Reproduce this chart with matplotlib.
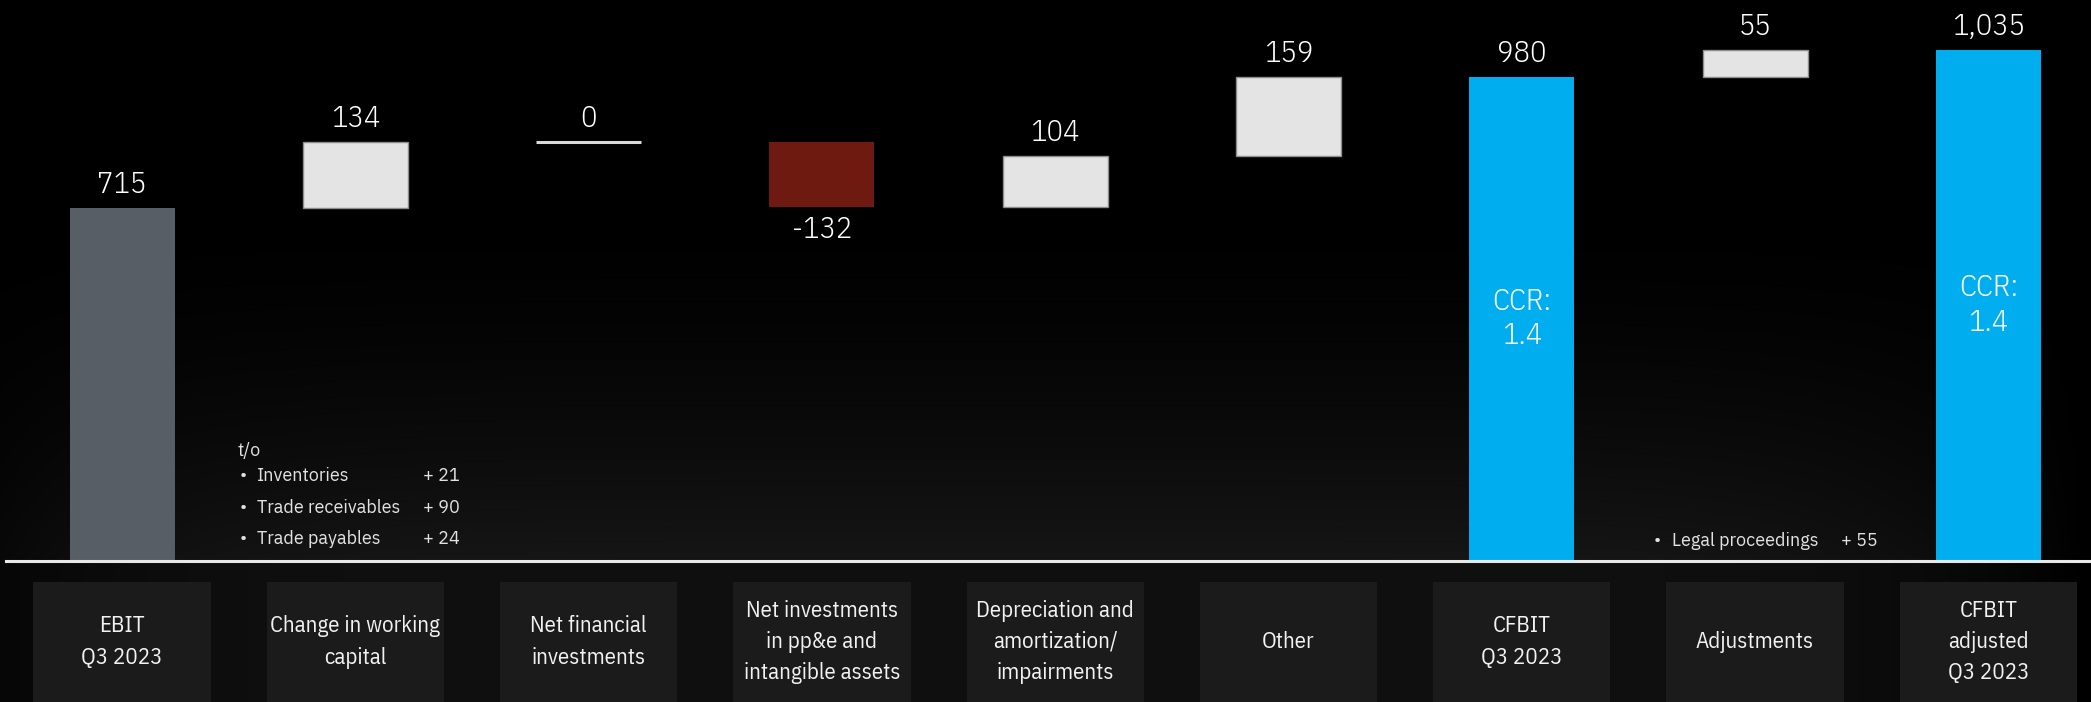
import numpy as np
import matplotlib
matplotlib.use("Agg")
import matplotlib.pyplot as plt
from matplotlib.patches import Rectangle
import matplotlib.transforms as mtransforms

# Überleitung EBIT -> CFBIT, Q3 2023 (Mio. EUR)
categories = ["EBIT\nQ3 2023", "Change in working\ncapital", "Net financial\ninvestments",
              "Net investments\nin pp&e and\nintangible assets",
              "Depreciation and\namortization/\nimpairments", "Other",
              "CFBIT\nQ3 2023", "Adjustments", "CFBIT\nadjusted\nQ3 2023"]
values = [715, 134, 0, -132, 104, 159, 980, 55, 1035]
is_total = [True, False, False, False, False, False, True, False, True]
value_labels = ["715", "134", "0", "-132", "104", "159", "980", "55", "1,035"]
ccr_labels = ["", "", "", "", "", "", "CCR:\n1.4", "", "CCR:\n1.4"]
bar_colors = ["#575e66", "#e4e4e4", "#e4e4e4", "#6e1a10", "#e4e4e4",
              "#e4e4e4", "#00aeef", "#e4e4e4", "#00aeef"]

wc_items = ["Inventories", "Trade receivables", "Trade payables"]
wc_values = ["+ 21", "+ 90", "+ 24"]
adj_items = ["Legal proceedings"]
adj_values = ["+ 55"]

NARROW = ["IBM Plex Sans Condensed", "Fira Sans Condensed", "DejaVu Sans"]
PLAIN = ["IBM Plex Sans", "Fira Sans", "DejaVu Sans"]

# Balken: Summen ab 0, Deltas ab laufendem Stand
bottoms, heights = [], []
running = 0
for v, tot in zip(values, is_total):
    if tot:
        bottoms.append(0)
        heights.append(v)
        running = v
    else:
        bottoms.append(running if v >= 0 else running + v)
        heights.append(abs(v))
        running += v

fig = plt.figure(figsize=(20.91, 7.02), dpi=100)
fig.patch.set_facecolor("black")
ax = fig.add_axes([0, 0, 1, 1])
ax.set_axis_off()
XL = (-0.523, 8.44)
YL = (-285.6, 1136.3)

# Hintergrund: oben schwarz, nach unten dunkelgrau, Ränder abgedunkelt
ny, nx = 140, 420
yy = np.linspace(0, 1, ny)[:, None]           # 0 = oben
xx = np.linspace(0, 1, nx)[None, :]
vert = np.clip((yy - 0.28) / 0.52, 0, 1) ** 1.6 * 0.085
vert = np.where(yy > 0.8, 0.062, vert)
horiz = np.clip(1 - ((xx - 0.48) / 0.52) ** 6, 0, 1)
lum = vert * horiz
bg = np.dstack([lum, lum, lum * 1.05])
ax.imshow(np.clip(bg, 0, 1), extent=(XL[0], XL[1], YL[0], YL[1]), aspect="auto",
          interpolation="bilinear", zorder=0)

x = np.arange(len(values))
w = 0.45
for i in x:
    if heights[i] == 0:
        ax.hlines(bottoms[i], i - w / 2, i + w / 2, color="#d9d9d9", lw=2.2, zorder=3)
        continue
    light = bar_colors[i] == "#e4e4e4"
    ax.bar(i, heights[i], bottom=bottoms[i], width=w, color=bar_colors[i],
           edgecolor="#8c8c8c" if light else bar_colors[i], linewidth=1 if light else 0,
           zorder=3)

# Wertbeschriftungen
lbl_kw = dict(ha="center", va="center", fontsize=22, color="white", family=NARROW,
              weight=300, zorder=4)
for i in x:
    if values[i] < 0:
        ax.annotate(value_labels[i], (i, bottoms[i]), xytext=(0, -16.5),
                    textcoords="offset points", **lbl_kw)
    else:
        ax.annotate(value_labels[i], (i, bottoms[i] + heights[i]), xytext=(0, 16.5),
                    textcoords="offset points", **lbl_kw)
    if ccr_labels[i]:
        ax.text(i, values[i] / 2, ccr_labels[i], linespacing=1.3, **lbl_kw)

ax.axhline(0, xmin=0.003, xmax=1, color="#e8e8e8", lw=2.2, zorder=5)

# Kategorien in Kästen unter der Grundlinie
trans = mtransforms.blended_transform_factory(ax.transData, ax.transAxes)
for i, cat in enumerate(categories):
    ax.add_patch(Rectangle((i - 0.38, 0), 0.76, 0.171, transform=trans,
                           facecolor="#1b1b1c", edgecolor="none", zorder=2))
    ax.text(i, 0.0855, cat, transform=trans, ha="center", va="center",
            fontsize=16.5, color="#f2f2f2", family=NARROW, linespacing=1.55, zorder=4)

# Erläuterungen
note_kw = dict(fontsize=13, color="#e2e2e2", family=PLAIN, va="center", zorder=4)
ax.text(0.493, 223, "t/o", **note_kw)
for k, (item, val) in enumerate(zip(wc_items, wc_values)):
    yv = 172 - k * 64
    ax.text(0.505, yv, "•", **note_kw)
    ax.text(0.579, yv, item, **note_kw)
    ax.text(1.29, yv, val, **note_kw)
for item, val in zip(adj_items, adj_values):
    ax.text(6.566, 40, "•", **note_kw)
    ax.text(6.644, 40, item, **note_kw)
    ax.text(7.368, 40, val, **note_kw)

ax.set_xlim(*XL)
ax.set_ylim(*YL)
fig.savefig("out.png", dpi=100, facecolor="black")
